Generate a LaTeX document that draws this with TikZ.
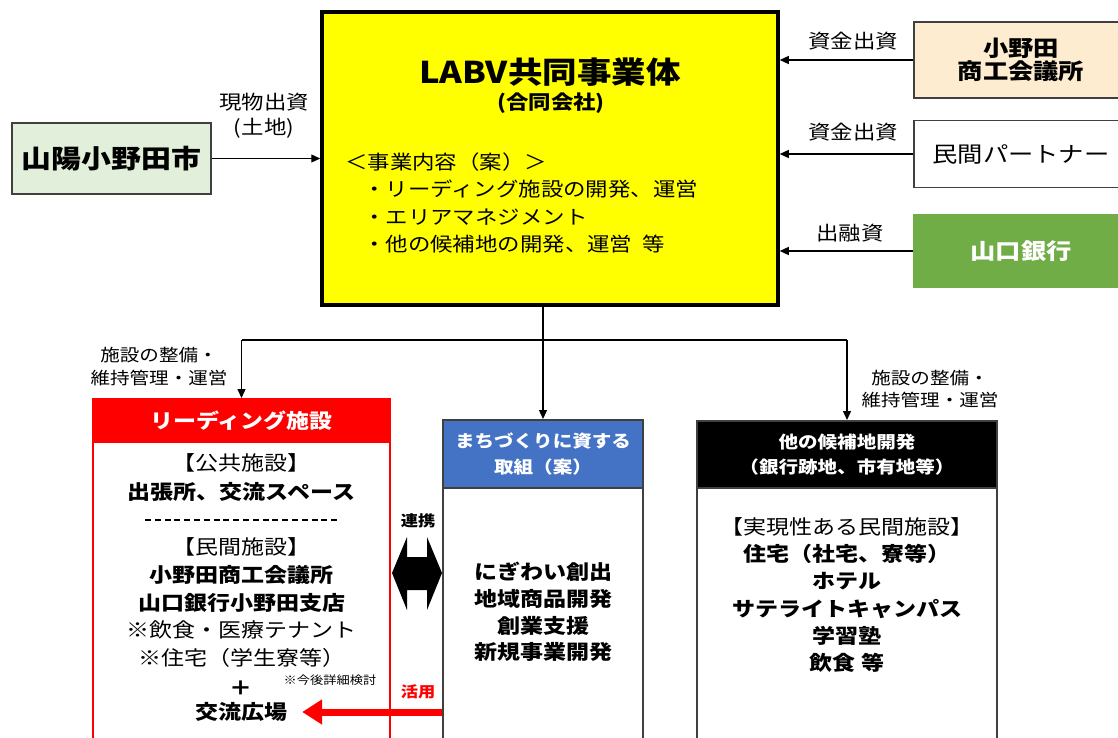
\documentclass[tikz,border=0pt]{standalone}
\usepackage{fontspec}
\setmainfont{Noto Sans CJK JP}[FakeStretch=1.15]
\usetikzlibrary{arrows.meta,positioning}
\definecolor{labvyellow}{RGB}{255,255,0}
\definecolor{citygreen}{RGB}{226,239,218}
\definecolor{chamberbeige}{RGB}{253,236,207}
\definecolor{bankgreen}{RGB}{112,173,71}
\definecolor{planblue}{RGB}{68,114,196}
\definecolor{leadred}{RGB}{255,0,0}
\definecolor{boxgray}{RGB}{64,64,64}
\newcommand{\setfs}[2]{\fontsize{#1}{#2}\selectfont}

\begin{document}
\begin{tikzpicture}[x=1pt,y=-1pt,
  box/.style={draw=boxgray, line width=1.5pt, inner sep=0pt},
  flow/.style={-{Triangle[length=9pt,width=8pt]}, line width=1.3pt},
  lbl/.style={inner sep=0pt, align=center, font=\setfs{19.5}{25}},
  body/.style={inner sep=0pt, align=center, font=\setfs{20}{27.7}}]
  \useasboundingbox (0,0) rectangle (1118,738);
  \clip (0,0) rectangle (1118,738);

  % joint venture
  \node[draw, line width=3.5pt, fill=labvyellow, minimum width=456pt, minimum height=293pt] (labv) at (550,158.5) {};
  \node[inner sep=0pt, font=\setfs{30}{34}\bfseries] (labvtitle) at (550,72) {LABV共同事業体};
  \node[inner sep=0pt, font=\setfs{19.5}{22}\bfseries] (labvsub) at (551,103) {(合同会社)};
  \node[inner sep=0pt, align=left, anchor=west, font=\setfs{19.5}{27.3}] (labvtask) at (345,203) {＜事業内容（案）＞\\\hspace*{18pt}・リーディング施設の開発、運営\\\hspace*{18pt}・エリアマネジメント\\\hspace*{18pt}・他の候補地の開発、運営\hspace{10pt}等};

  % investors
  \node[box, fill=citygreen, minimum width=199pt, minimum height=71pt, font=\setfs{26}{30}\bfseries] (city) at (111.5,158.5) {山陽小野田市};
  \node[box, fill=chamberbeige, minimum width=214pt, minimum height=76pt, align=center, font=\setfs{22}{23.5}\bfseries] (chamber) at (1021,60) {小野田\\商工会議所};
  \node[box, fill=white, minimum width=214pt, minimum height=67pt, font=\setfs{22}{26}] (partner) at (1021,154) {民間パートナー};
  \node[box, draw=bankgreen, fill=bankgreen, minimum width=214pt, minimum height=72pt, text=white, font=\setfs{22}{26}\bfseries] (bank) at (1021,251) {山口銀行};

  \draw[flow] (city.east) -- (city.east -| labv.west);
  \draw[flow] (chamber.west) -- (chamber.west -| labv.east);
  \draw[flow] (partner.west) -- (partner.west -| labv.east);
  \draw[flow] (bank.west) -- (bank.west -| labv.east);

  \node[lbl] (inkind) at (264,115.5) {現物出資\\(土地)};
  \node[lbl] (fund1) at (853,41) {資金出資};
  \node[lbl] (fund2) at (853,132) {資金出資};
  \node[lbl] (loan) at (850,233) {出融資};

  % projects
  \node[draw=leadred, line width=2pt, minimum width=297pt, minimum height=350pt, anchor=north] (lead) at (241.5,398) {};
  \node[draw=leadred, line width=2pt, fill=leadred, minimum width=297pt, minimum height=43pt, anchor=north, text=white, font=\setfs{20}{24}\bfseries] (leadhead) at (lead.north) {リーディング施設};
  \node[box, minimum width=200pt, minimum height=330pt, anchor=north] (plan) at (543,419) {};
  \node[box, fill=planblue, minimum width=200pt, minimum height=68pt, anchor=north, text=white, align=center, font=\setfs{17}{26}\bfseries] (planhead) at (plan.north) {まちづくりに資する\\取組（案）};
  \node[box, minimum width=300pt, minimum height=330pt, anchor=north] (other) at (847,420) {};
  \node[box, fill=black, minimum width=300pt, minimum height=67pt, anchor=north, text=white, align=center, font=\setfs{17}{25}\bfseries] (otherhead) at (other.north) {他の候補地開発\\（銀行跡地、市有地等）};

  \coordinate (split) at (543,340);
  \draw[line width=1.3pt] (labv.south -| plan.north) -- (split);
  \draw[line width=1.3pt] (lead.north |- split) -- (other.north |- split);
  \draw[flow] (split) -- (plan.north);
  \draw[flow] (lead.north |- split) -- (lead.north);
  \draw[flow] (other.north |- split) -- (other.north);
  \node[lbl, font=\setfs{17}{22.5}] (leadlbl) at (159,366.5) {施設の整備・\\維持管理・運営};
  \node[lbl, font=\setfs{17}{22.5}] (otherlbl) at (930,389) {施設の整備・\\維持管理・運営};

  % lead facility
  \node[body, font=\setfs{20}{29}] (leadpub) at (241.5,477.5) {【公共施設】\\\textbf{出張所、交流スペース}};
  \draw[dash pattern=on 6pt off 3.8pt, line width=1.5pt] (145,520) -- (340,520);
  \node[body] (leadpriv) at (241.5,602.5) {【民間施設】\\\textbf{小野田商工会議所}\\\textbf{山口銀行小野田支店}\\※飲食・医療テナント\\※住宅（学生寮等）};
  \node[inner sep=0pt, font=\setfs{11.5}{13}] (leadnote) at (330,680) {※今後詳細検討};
  \node[inner sep=0pt, font=\setfs{20}{24}\bfseries] (leadplus) at (241,688) {＋};
  \node[inner sep=0pt, font=\setfs{20}{24}\bfseries] (square) at (241,712) {交流広場};

  % town planning and other sites
  \node[body, font=\setfs{20}{26.7}\bfseries] (plantask) at (543,612) {にぎわい創出\\地域商品開発\\創業支援\\新規事業開発};
  \node[body, font=\setfs{20}{27.2}] (othertask) at (847,595) {【実現性ある民間施設】\\\textbf{住宅（社宅、寮等）}\\\textbf{ホテル}\\\textbf{サテライトキャンパス}\\\textbf{学習塾}\\\textbf{飲食 等}};

  % links between lead facility and town planning
  \coordinate (link) at (417,573);
  \fill ([xshift=-25pt]link) -- ++(15,-36) -- ++(0,20) -- ++(20,0) -- ++(0,-20) -- ++(15,36) -- ++(-15,37) -- ++(0,-20) -- ++(-20,0) -- ++(0,20) -- cycle;
  \node[inner sep=0pt, font=\setfs{15}{18}\bfseries] (linklbl) at (418,521) {連携};
  \draw[leadred, line width=7pt, -{Triangle[length=20pt,width=24pt]}, shorten >=15pt] (plan.west |- square) -- (square.east);
  \node[inner sep=0pt, text=leadred, font=\setfs{15}{18}\bfseries] (uselbl) at (418,692) {活用};
\end{tikzpicture}
\end{document}
